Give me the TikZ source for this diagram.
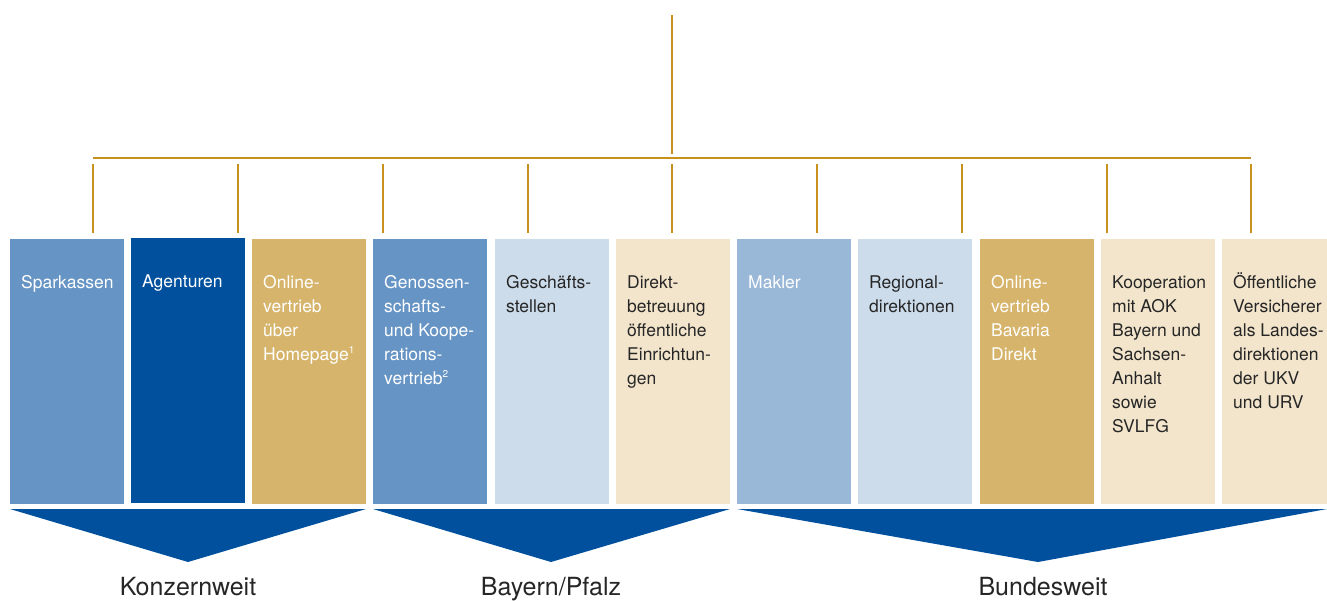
\documentclass[tikz,border=0pt]{standalone}
\usepackage{fontspec}
\setmainfont{TeX Gyre Heros}
\usepackage{xcolor}
\definecolor{darkblue}{HTML}{00509E}
\definecolor{midblue}{HTML}{6694C4}
\definecolor{paleblue}{HTML}{99B7D6}
\definecolor{lightblue}{HTML}{CCDCEB}
\definecolor{goldbox}{HTML}{D7B46B}
\definecolor{cream}{HTML}{F2E5CC}
\definecolor{linegold}{HTML}{C8901C}
\definecolor{inktext}{HTML}{262626}
\tikzstyle{channel} = [rectangle, anchor=north west, inner xsep=11pt, inner ysep=0pt,
    minimum width=114pt, minimum height=265pt, font=\fontsize{17.5}{24}\selectfont]
\tikzstyle{onwhite} = [text=white]
\tikzstyle{onink} = [text=inktext]
\tikzstyle{branch} = [draw=linegold, line width=2pt]
\tikzstyle{region} = [fill=darkblue]
\tikzstyle{regionlabel} = [anchor=base, inner sep=0pt, text=inktext,
    font=\fontsize{25}{29}\selectfont]
\newcommand{\chtext}[1]{\parbox[t][265pt][t]{92pt}{\raggedright\rule{0pt}{49pt}#1}}
\newcommand{\fnmark}[1]{\raisebox{7pt}{\fontsize{10}{12}\selectfont#1}}

\begin{document}
\begin{tikzpicture}[x=1pt, y=-1pt]
\useasboundingbox (0,0) rectangle (1327,601);

\coordinate (root) at (672,15);
\coordinate (hub) at (672,154);
\coordinate (barl) at (93,158);
\coordinate (barr) at (1251,158);
\draw[branch] (root) -- (hub);
\draw[branch] (barl) -- (barr);
\foreach \i/\x in {1/93, 2/238, 3/383, 4/528, 5/672, 6/817, 7/962, 8/1107, 9/1251}{
    \coordinate (drop\i) at (\x,164);
    \coordinate (foot\i) at (\x,233);
    \draw[branch] (drop\i) -- (foot\i);
}

\node[channel, onwhite, fill=midblue] (spk) at (10,239) {\chtext{Sparkassen}};
\node[channel, onwhite, fill=darkblue] (agt) at (131,238) {\chtext{Agenturen}};
\node[channel, onwhite, fill=goldbox] (onlhp) at (252,239)
    {\chtext{Online-\\vertrieb\\über\\Homepage\fnmark{1}}};
\node[channel, onwhite, fill=midblue] (gen) at (373,239)
    {\chtext{Genossen-\\schafts-\\und Koope-\\rations-\\vertrieb\fnmark{2}}};
\node[channel, onink, fill=lightblue] (gst) at (495,239) {\chtext{Geschäfts-\\stellen}};
\node[channel, onink, fill=cream] (dir) at (616,239)
    {\chtext{Direkt-\\betreuung\\öffentliche\\Einrichtun-\\gen}};
\node[channel, onwhite, fill=paleblue] (mak) at (737,239) {\chtext{Makler}};
\node[channel, onink, fill=lightblue] (reg) at (858,239) {\chtext{Regional-\\direktionen}};
\node[channel, onwhite, fill=goldbox] (onlbd) at (980,239)
    {\chtext{Online-\\vertrieb\\Bavaria\\Direkt}};
\node[channel, onink, fill=cream] (koop) at (1101,239)
    {\chtext{Kooperation\\mit AOK\\Bayern und\\Sachsen-\\Anhalt\\sowie\\SVLFG}};
\node[channel, onink, fill=cream] (oev) at (1222,239)
    {\chtext{Öffentliche\\Versicherer\\als Landes-\\direktionen\\der UKV\\und URV}};

\fill[region] (10,509) -- (366,509) -- (188,562) -- cycle;
\fill[region] (373,509) -- (730,509) -- (551,562) -- cycle;
\fill[region] (737,509) -- (1327,509) -- (1038,562) -- cycle;

\node[regionlabel] (konz) at (188,595) {Konzernweit};
\node[regionlabel] (bay) at (551,595) {Bayern/Pfalz};
\node[regionlabel] (bund) at (1043,595) {Bundesweit};
\end{tikzpicture}
\end{document}
